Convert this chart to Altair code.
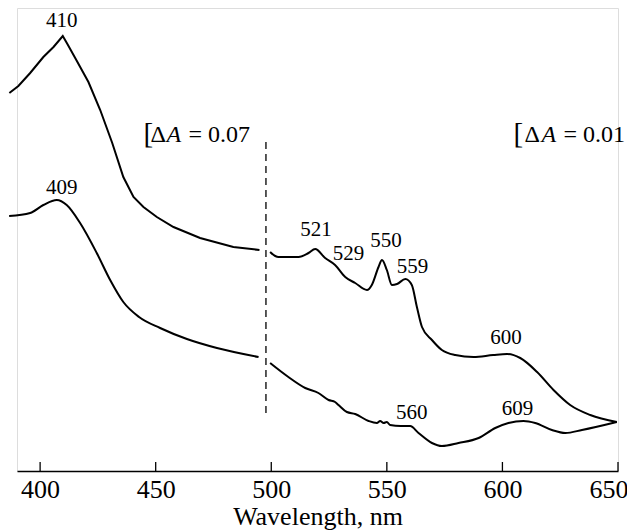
import altair as alt
import pandas as pd

# ---- spectra (wavelength nm, relative absorbance, arbitrary units) ----
upper_left_nm = [386.7, 390.6, 395.7, 401.4, 405.8, 409.8, 411.8, 415.9, 420.9, 426.0, 431.2, 436.0, 440.4, 444.7, 450.5, 457.7, 469.2, 483.6, 494.9]
upper_left_a = [3.78, 3.85, 3.98, 4.14, 4.24, 4.35, 4.27, 4.10, 3.89, 3.61, 3.28, 2.94, 2.74, 2.64, 2.54, 2.44, 2.33, 2.24, 2.21]

upper_right_nm = [499.5, 501.7, 503.1, 511.8, 516.1, 519.0, 523.3, 527.6, 532.0, 536.3, 541.4, 543.5, 546.4, 547.9, 550.0, 552.2, 554.4, 558.0, 560.8, 563.0, 565.2, 569.5, 573.8, 579.6, 587.5, 596.0, 602.0, 607.7, 615.0, 622.1, 629.3, 638.0, 649.5]
upper_right_a = [2.19, 2.15, 2.14, 2.14, 2.18, 2.22, 2.13, 2.06, 1.94, 1.88, 1.81, 1.86, 2.04, 2.11, 2.01, 1.86, 1.87, 1.92, 1.86, 1.64, 1.44, 1.31, 1.21, 1.16, 1.14, 1.16, 1.17, 1.13, 0.99, 0.81, 0.66, 0.56, 0.49]

lower_left_nm = [386.6, 395.7, 401.4, 407.2, 411.5, 417.3, 424.5, 430.3, 436.0, 442.8, 451.9, 463.5, 476.5, 494.5]
lower_left_a = [2.55, 2.58, 2.66, 2.71, 2.66, 2.48, 2.18, 1.91, 1.69, 1.54, 1.43, 1.32, 1.23, 1.14]

lower_right_nm = [499.5, 507.4, 514.7, 520.4, 524.8, 527.6, 529.1, 532.7, 536.3, 542.1, 545.7, 547.1, 548.6, 550.0, 551.4, 556.0, 560.1, 563.7, 569.5, 573.8, 581.0, 589.7, 596.9, 602.6, 609.1, 614.2, 621.4, 627.2, 634.4, 649.5]
lower_right_a = [1.08, 0.94, 0.83, 0.78, 0.71, 0.69, 0.66, 0.59, 0.57, 0.50, 0.48, 0.50, 0.48, 0.49, 0.46, 0.45, 0.45, 0.38, 0.28, 0.25, 0.28, 0.33, 0.43, 0.48, 0.50, 0.48, 0.41, 0.38, 0.41, 0.49]

# ---- peak labels ----
peak_text = ["410", "409", "521", "529", "550", "559", "560", "600", "609"]
peak_nm = [409.4, 409.4, 519.4, 533.4, 549.6, 561.1, 560.8, 601.6, 606.5]
peak_a = [4.50, 2.83, 2.41, 2.17, 2.30, 2.04, 0.58, 1.33, 0.62]

# ---- break marker and scale-bar labels ----
break_nm = [497.7]
break_lo = [0.58]
break_hi = [3.29]
scale_values = ["0.07", "0.01"]
scale_nm = [444.7, 604.8]
scale_a = [3.29, 3.29]

tick_values = [400, 450, 500, 550, 600, 650]

segments = []
for name, xs_, ys_ in [("A1", upper_left_nm, upper_left_a), ("A2", upper_right_nm, upper_right_a),
                       ("B1", lower_left_nm, lower_left_a), ("B2", lower_right_nm, lower_right_a)]:
    for x, y in zip(xs_, ys_):
        segments.append({"seg": name, "nm": x, "a": y})
spec_df = pd.DataFrame(segments)
peak_df = pd.DataFrame({"t": peak_text, "nm": peak_nm, "a": peak_a})
break_df = pd.DataFrame({"nm": break_nm, "lo": break_lo, "hi": break_hi})
tick_df = pd.DataFrame({"nm": tick_values})

FONT = "Liberation Serif, Times New Roman, serif"
W, H = 601, 463

xs = alt.Scale(domain=[390, 650], nice=False, zero=False)
ys = alt.Scale(domain=[0, 4.63], nice=False, zero=False)

x_axis = alt.Axis(values=tick_values, tickSize=0, labelPadding=5, labelFont=FONT, labelFontSize=26,
                  labelColor="black", domainColor="black", domainWidth=1.5, grid=False,
                  title="Wavelength, nm", titleFont=FONT, titleFontSize=26, titleFontWeight="normal",
                  titleColor="black", titlePadding=1, labelFlush=True, labelFlushOffset=10)

base = alt.Chart(spec_df).encode(
    x=alt.X("nm:Q", scale=xs, axis=x_axis),
    y=alt.Y("a:Q", scale=ys, axis=None),
    detail="seg:N",
)
line_sharp = base.mark_line(color="black", strokeWidth=2, interpolate="linear").transform_filter(
    alt.datum.seg == "A1")
line_smooth = base.mark_line(color="black", strokeWidth=2, interpolate="monotone").transform_filter(
    alt.datum.seg != "A1")

ticks = alt.Chart(tick_df).mark_rule(color="black", strokeWidth=1.3).encode(
    x=alt.X("nm:Q", scale=xs),
    y=alt.value(H - 9),
    y2=alt.value(H),
)

dash = alt.Chart(break_df).mark_rule(color="black", strokeWidth=1.3, strokeDash=[7, 5]).encode(
    x=alt.X("nm:Q", scale=xs),
    y=alt.Y("lo:Q", scale=ys),
    y2="hi:Q",
)

peaks = alt.Chart(peak_df).mark_text(font=FONT, fontSize=21, color="black", baseline="middle", align="center").encode(
    x=alt.X("nm:Q", scale=xs),
    y=alt.Y("a:Q", scale=ys),
    text="t:N",
)


def scale_label(i, d_delta, d_a, d_eq):
    df = pd.DataFrame({"v": ["= " + scale_values[i]], "nm": [scale_nm[i]], "a": [scale_a[i]]})
    enc = dict(x=alt.X("nm:Q", scale=xs), y=alt.Y("a:Q", scale=ys))
    br = alt.Chart(df).mark_text(font=FONT, fontSize=29, color="black", baseline="alphabetic",
                                 align="left", dy=1).encode(text=alt.value("["), **enc)
    de = alt.Chart(df).mark_text(font=FONT, fontSize=24, color="black", baseline="alphabetic",
                                 align="left", dx=d_delta).encode(text=alt.value("Δ"), **enc)
    ai = alt.Chart(df).mark_text(font=FONT, fontSize=24, fontStyle="italic", color="black",
                                 baseline="alphabetic", align="left", dx=d_a).encode(text=alt.value("A"), **enc)
    eq = alt.Chart(df).mark_text(font=FONT, fontSize=24, color="black", baseline="alphabetic",
                                 align="left", dx=d_eq).encode(text="v:N", **enc)
    return [br, de, ai, eq]


labels = scale_label(0, 7, 23, 45) + scale_label(1, 11, 28, 50)

chart = alt.layer(line_sharp, line_smooth, ticks, dash, peaks, *labels).properties(
    width=W, height=H,
    autosize=alt.AutoSizeParams(type="none"),
    padding={"left": 9, "top": 0, "right": 9, "bottom": 60},
).configure_view(stroke=None).configure(background="white")

chart.save("out.html", embed_options={"renderer": "svg", "actions": False})
